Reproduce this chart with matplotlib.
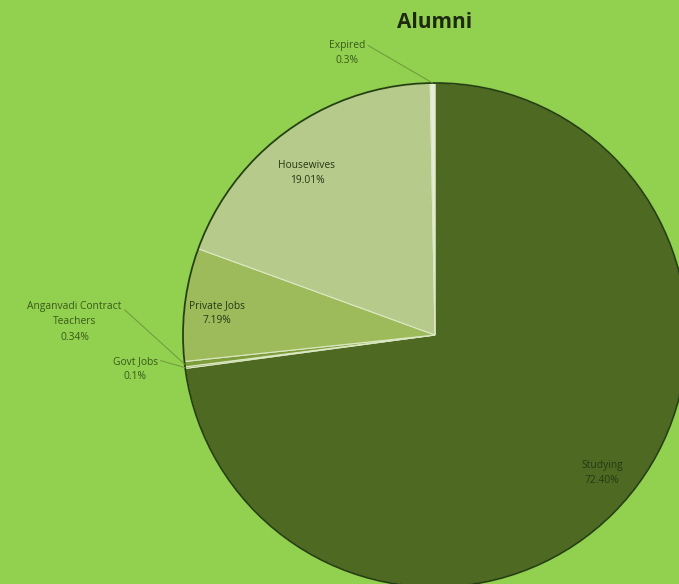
import numpy as np
import matplotlib.pyplot as plt
from matplotlib.patches import Circle

categories = ['Studying', 'Govt Jobs', 'Anganvadi Contract\nTeachers', 'Private Jobs', 'Housewives', 'Expired']
values = [72.40, 0.1, 0.34, 7.19, 19.01, 0.3]
pct_labels = ['72.40%', '0.1%', '0.34%', '7.19%', '19.01%', '0.3%']
colors = ['#4E6A22', '#6E8E30', '#7E9E3C', '#9DBB5A', '#B6CA8C', '#E6EED6']

# label placement relative to pie centre, in radius units
label_pos = [(0.663, -0.548), (-1.19, -0.135), (-1.43, 0.052),
             (-0.865, 0.087), (-0.508, 0.643), (-0.349, 1.119)]
outside = [False, True, True, False, False, True]

W, H = 679, 584
fig = plt.figure(figsize=(W / 100, H / 100), dpi=100)
fig.patch.set_facecolor('#92D050')
ax = fig.add_axes([0, 0, 1, 1])
ax.set_facecolor('#92D050')

cx, cy, r = 435, 249, 252
wedges, _ = ax.pie(values, colors=colors, startangle=90, counterclock=False,
                   center=(cx, cy), radius=r, frame=True,
                   wedgeprops=dict(edgecolor='#DCE8C4', linewidth=0.8))
ax.set_xlim(0, W)
ax.set_ylim(0, H)
ax.set_aspect('equal')
ax.axis('off')
ax.add_patch(Circle((cx, cy), r, fill=False, edgecolor='#24400F', linewidth=1.3))

font = 'Open Sans'
for w, name, pct, (dx, dy), out in zip(wedges, categories, pct_labels, label_pos, outside):
    tx, ty = cx + dx * r, cy + dy * r
    txt = name + '\n' + pct
    if out:
        ang = np.deg2rad((w.theta1 + w.theta2) / 2)
        px, py = cx + r * np.cos(ang), cy + r * np.sin(ang)
        ax.annotate(txt, xy=(px, py), xytext=(tx, ty), ha='center', va='center',
                    fontsize=7.4, color='#3A5A1A', family=font, linespacing=1.55,
                    arrowprops=dict(arrowstyle='-', color='#6E9A3A', lw=0.7,
                                    relpos=(1.0, 0.85), shrinkA=0, shrinkB=0))
    else:
        ax.text(tx, ty, txt, ha='center', va='center', fontsize=7.4,
                color='#243814', family=font, linespacing=1.55)

ax.text(cx, H - 22, 'Alumni', ha='center', va='center', fontsize=15,
        fontweight='bold', color='#1E2A10', family=font)

fig.savefig('out.png', dpi=100, facecolor=fig.get_facecolor())
